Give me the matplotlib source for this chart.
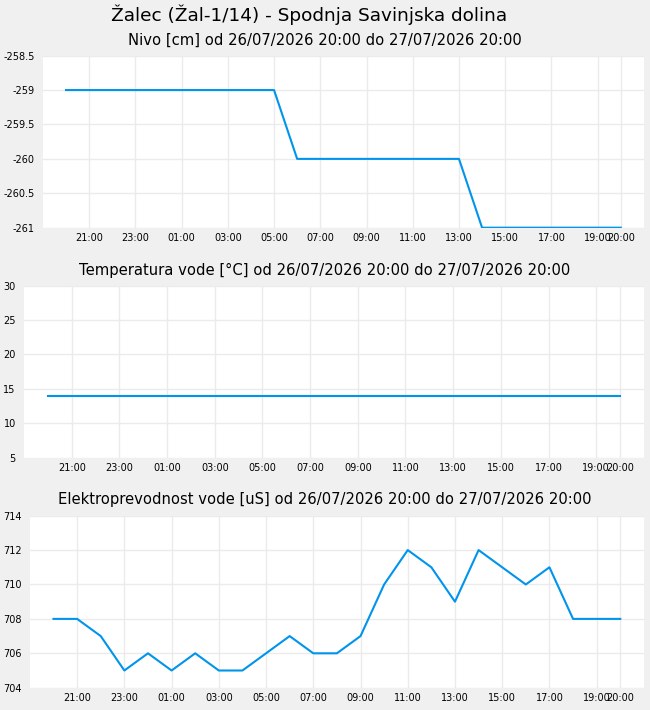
import matplotlib
matplotlib.use("Agg")
import matplotlib.pyplot as plt
import matplotlib.dates as mdates
import pandas as pd

# hourly samples 26/07/2026 20:00 .. 27/07/2026 20:00
times = pd.date_range("2026-07-26 20:00", "2026-07-27 20:00", freq="h")

nivo = [-259, -259, -259, -259, -259, -259, -259, -259, -259, -259,
        -260, -260, -260, -260, -260, -260, -260, -260,
        -261, -261, -261, -261, -261, -261, -261]
temperatura = [13.9] * 25
prevodnost = [708, 708, 707, 705, 706, 705, 706, 705, 705, 706, 707, 706,
              706, 707, 710, 712, 711, 709, 712, 711, 710, 711, 708, 708, 708]

suptitle = "Žalec (Žal-1/14) - Spodnja Savinjska dolina"
period = "od 26/07/2026 20:00 do 27/07/2026 20:00"
titles = ["Nivo [cm] " + period,
          "Temperatura vode [°C] " + period,
          "Elektroprevodnost vode [uS] " + period]
ylims = [(-261, -258.5), (5, 30), (704, 714)]
ysteps = [0.5, 5, 2]
series = [nivo, temperatura, prevodnost]

# tick positions: every two hours from 21:00 plus the final 20:00
xticks = list(times[1::2]) + [times[-1]]

bg = "#f0f0f0"
line_color = "#0094ec"
grid_color = "#ebebeb"

fig = plt.figure(figsize=(6.5, 7.1), dpi=100, facecolor=bg)
fig.text(0.476, 0.979, suptitle, ha="center", va="center", fontsize=13.3)

axes_pos = [(0.066, 0.6793, 0.9246, 0.2423),
            (0.037, 0.3554, 0.9536, 0.2423),
            (0.046, 0.0314, 0.9446, 0.2423)]
title_y = [0.9437, 0.6197, 0.2958]

for pos, ty, title, vals, ylim, step in zip(axes_pos, title_y, titles, series, ylims, ysteps):
    ax = fig.add_axes(pos)
    ax.set_facecolor("white")
    ax.plot(times, vals, color=line_color, linewidth=1.5)
    ax.set_xlim(times[0] - pd.Timedelta(hours=1), times[-1] + pd.Timedelta(hours=1))
    ax.set_ylim(*ylim)
    n = int(round((ylim[1] - ylim[0]) / step))
    yt = [ylim[0] + i * step for i in range(n + 1)]
    ax.set_yticks(yt)
    ax.set_yticklabels(["%g" % v for v in yt])
    ax.set_xticks(xticks)
    ax.xaxis.set_major_formatter(mdates.DateFormatter("%H:%M"))
    ax.tick_params(axis="y", length=0, labelsize=7, pad=6)
    ax.tick_params(axis="x", length=0, labelsize=7, pad=4)
    ax.grid(True, color=grid_color, linewidth=1)
    ax.set_axisbelow(True)
    for sp in ax.spines.values():
        sp.set_visible(False)
    fig.text(0.5, ty, title, ha="center", va="center", fontsize=10.6)

plt.savefig("out.png", facecolor=bg)
